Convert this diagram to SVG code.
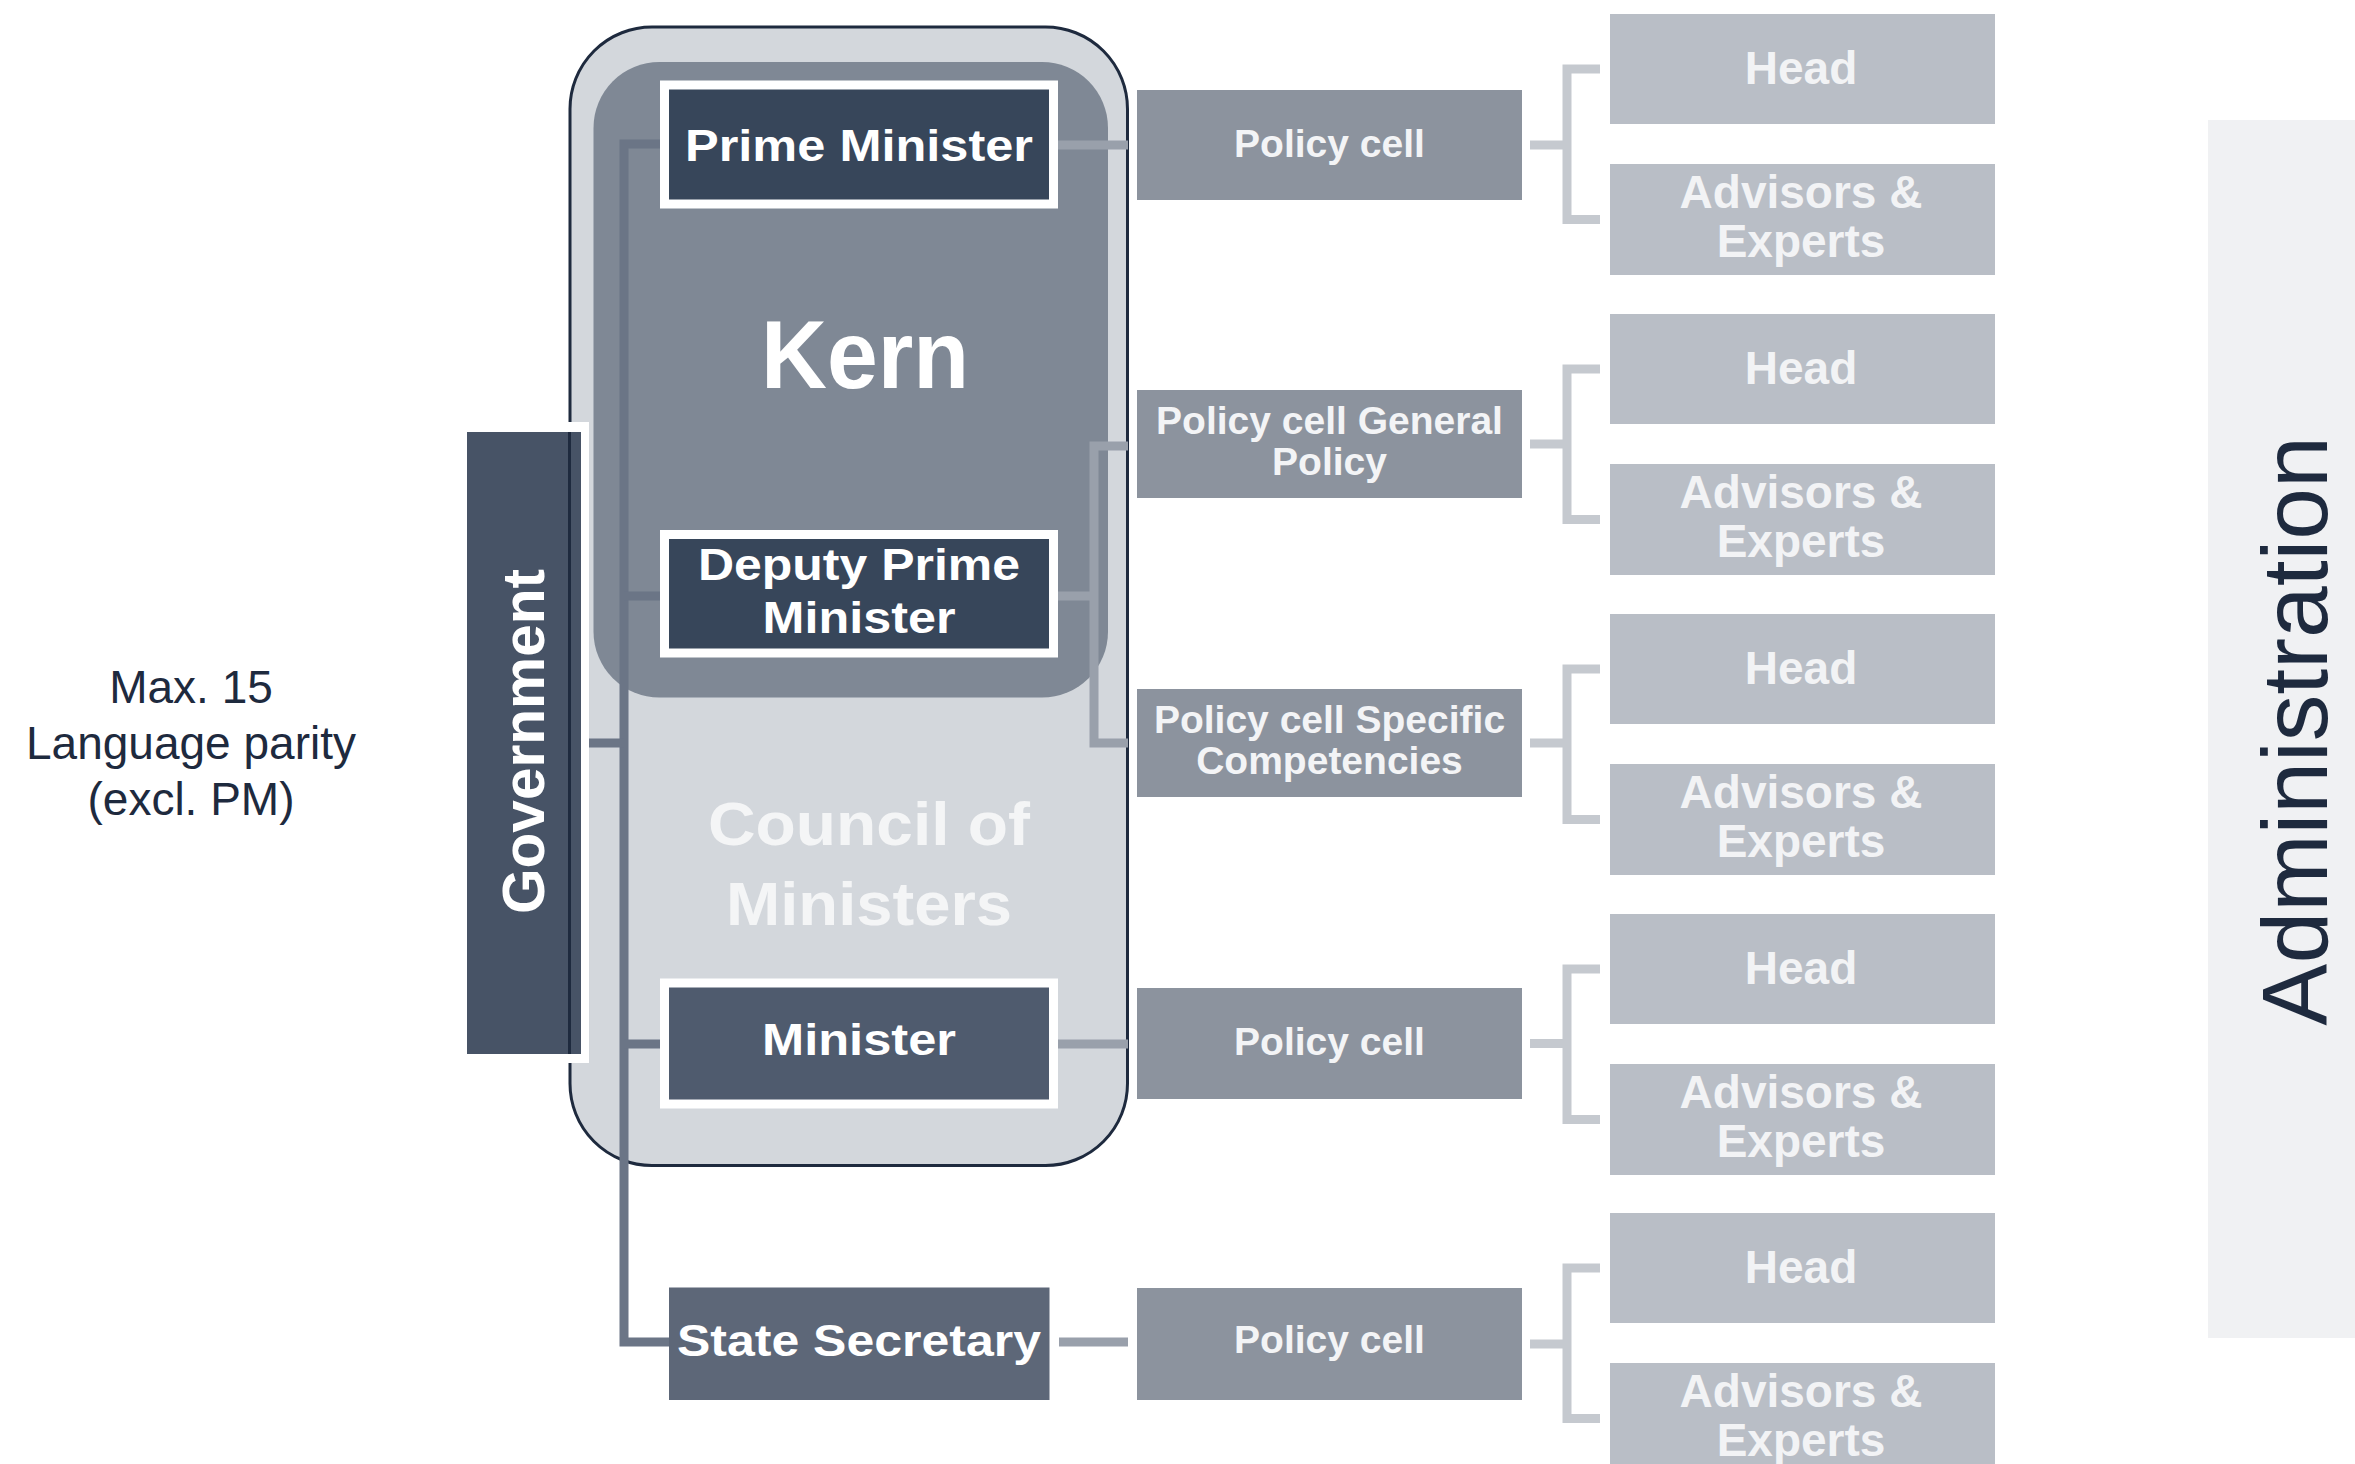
<svg xmlns="http://www.w3.org/2000/svg" width="2355" height="1464" viewBox="0 0 2355 1464">
<style>
.b{font-family:"Liberation Sans",Arial,sans-serif;font-weight:bold;text-anchor:middle}
.r{font-family:"Liberation Sans",Arial,sans-serif;text-anchor:middle}
.role{fill:#ffffff;font-size:45px}
.cell{fill:#8c939e}
.celltx{fill:#f3f4f6;font-size:39px}
.sub{fill:#b9bec6}
.subtx{fill:#f2f3f5;font-size:46px}
.bus{fill:none;stroke:#6b7586;stroke-width:9}
.link{fill:none;stroke:#99a0ab;stroke-width:9}
.brk{fill:none;stroke:#c5c9cf;stroke-width:9}
.wb{stroke:#ffffff;stroke-width:9}
</style>
<rect width="2355" height="1464" fill="#ffffff"/>

<g id="administration">
<rect x="2208" y="120" width="147" height="1218" fill="#f0f1f3"/>
<text class="r" transform="translate(2327,731) rotate(-90)" font-size="93" fill="#1e2a3e">Administration</text>
</g>

<g id="note">
<text class="r" x="191" y="703" font-size="46" fill="#1e2a3e">Max. 15</text>
<text class="r" x="191" y="759" font-size="46" fill="#1e2a3e">Language parity</text>
<text class="r" x="191" y="815" font-size="46" fill="#1e2a3e">(excl. PM)</text>
</g>

<g id="council">
<rect x="570" y="27" width="557.5" height="1138.5" rx="82" ry="82" fill="#d3d7dc" stroke="#1e2a3e" stroke-width="3"/>
</g>
<g id="kern">
<rect x="593.5" y="62" width="514.5" height="635.5" rx="66" ry="66" fill="#7f8895"/>
<text class="b" x="865" y="388" font-size="96" fill="#ffffff" textLength="208" lengthAdjust="spacingAndGlyphs">Kern</text>
</g>
<g id="council-label">
<text class="b" x="869" y="845" font-size="62" fill="#f4f5f6" textLength="322" lengthAdjust="spacingAndGlyphs">Council of</text>
<text class="b" x="869" y="925" font-size="62" fill="#f4f5f6" textLength="286" lengthAdjust="spacingAndGlyphs">Ministers</text>
</g>

<g id="government">
<rect x="462" y="422" width="127" height="641" fill="#ffffff"/>
<rect x="467" y="432" width="114" height="622" fill="#475366"/>
<line x1="569.5" y1="432" x2="569.5" y2="1054" stroke="#1e2a3e" stroke-width="3"/>
<text class="b" transform="translate(544,741.5) rotate(-90)" font-size="60" fill="#ffffff" textLength="345" lengthAdjust="spacingAndGlyphs">Government</text>
</g>

<g id="connectors">
<path class="bus" d="M660,144 H624 V1342 H669"/>
<path class="bus" d="M624,596 H660"/>
<path class="bus" d="M624,1044 H660"/>
<path class="bus" d="M589,743 H624"/>
<path class="link" d="M1058,145 H1128"/>
<path class="link" d="M1058,596 H1094"/>
<path class="link" d="M1128,446 H1094 V743 H1128"/>
<path class="link" d="M1058,1044 H1128"/>
<path class="link" d="M1059,1342 H1128"/>
<path class="brk" d="M1530,145 H1567 M1600,69 H1567 V219.5 H1600"/>
<path class="brk" d="M1530,444 H1567 M1600,369 H1567 V519.5 H1600"/>
<path class="brk" d="M1530,743 H1567 M1600,669 H1567 V819.5 H1600"/>
<path class="brk" d="M1530,1043.5 H1567 M1600,969 H1567 V1119.5 H1600"/>
<path class="brk" d="M1530,1344 H1567 M1600,1268 H1567 V1418.5 H1600"/>
</g>

<g id="prime-minister">
<rect class="wb" x="664.5" y="85" width="389" height="119" fill="#37465a"/>
<text class="b role" x="859" y="161" textLength="348" lengthAdjust="spacingAndGlyphs">Prime Minister</text>
</g>
<g id="deputy-prime-minister">
<rect class="wb" x="664.5" y="534.5" width="389" height="118.5" fill="#37465a"/>
<text class="b role" x="859" y="580" textLength="322" lengthAdjust="spacingAndGlyphs">Deputy Prime</text>
<text class="b role" x="859" y="633" textLength="193" lengthAdjust="spacingAndGlyphs">Minister</text>
</g>
<g id="minister">
<rect class="wb" x="664.5" y="983" width="389" height="121" fill="#4f5b6e"/>
<text class="b role" x="859" y="1055" textLength="194" lengthAdjust="spacingAndGlyphs">Minister</text>
</g>
<g id="state-secretary">
<rect x="669" y="1287.5" width="380.5" height="112.5" fill="#5d6778"/>
<text class="b role" x="859" y="1356" font-size="46" textLength="364" lengthAdjust="spacingAndGlyphs">State Secretary</text>
</g>

<g id="policy-cell-pm">
<rect class="cell" x="1137" y="90" width="385" height="110"/>
<text class="b celltx" x="1329.5" y="157">Policy cell</text>
</g>
<g id="policy-cell-general">
<rect class="cell" x="1137" y="390" width="385" height="108"/>
<text class="b celltx" x="1329.5" y="434">Policy cell General</text>
<text class="b celltx" x="1329.5" y="475">Policy</text>
</g>
<g id="policy-cell-specific">
<rect class="cell" x="1137" y="689" width="385" height="108"/>
<text class="b celltx" x="1329.5" y="733">Policy cell Specific</text>
<text class="b celltx" x="1329.5" y="774">Competencies</text>
</g>
<g id="policy-cell-minister">
<rect class="cell" x="1137" y="988" width="385" height="111"/>
<text class="b celltx" x="1329.5" y="1055">Policy cell</text>
</g>
<g id="policy-cell-state-secretary">
<rect class="cell" x="1137" y="1288" width="385" height="112"/>
<text class="b celltx" x="1329.5" y="1353">Policy cell</text>
</g>

<g id="head-1"><rect class="sub" x="1610" y="14" width="385" height="110"/><text class="b subtx" x="1801" y="84">Head</text></g>
<g id="advisors-1"><rect class="sub" x="1610" y="164" width="385" height="111"/><text class="b subtx" x="1801" y="208">Advisors &amp;</text><text class="b subtx" x="1801" y="257">Experts</text></g>
<g id="head-2"><rect class="sub" x="1610" y="314" width="385" height="110"/><text class="b subtx" x="1801" y="384">Head</text></g>
<g id="advisors-2"><rect class="sub" x="1610" y="464" width="385" height="111"/><text class="b subtx" x="1801" y="508">Advisors &amp;</text><text class="b subtx" x="1801" y="557">Experts</text></g>
<g id="head-3"><rect class="sub" x="1610" y="614" width="385" height="110"/><text class="b subtx" x="1801" y="684">Head</text></g>
<g id="advisors-3"><rect class="sub" x="1610" y="764" width="385" height="111"/><text class="b subtx" x="1801" y="808">Advisors &amp;</text><text class="b subtx" x="1801" y="857">Experts</text></g>
<g id="head-4"><rect class="sub" x="1610" y="914" width="385" height="110"/><text class="b subtx" x="1801" y="984">Head</text></g>
<g id="advisors-4"><rect class="sub" x="1610" y="1064" width="385" height="111"/><text class="b subtx" x="1801" y="1108">Advisors &amp;</text><text class="b subtx" x="1801" y="1157">Experts</text></g>
<g id="head-5"><rect class="sub" x="1610" y="1213" width="385" height="110"/><text class="b subtx" x="1801" y="1283">Head</text></g>
<g id="advisors-5"><rect class="sub" x="1610" y="1363" width="385" height="111"/><text class="b subtx" x="1801" y="1407">Advisors &amp;</text><text class="b subtx" x="1801" y="1456">Experts</text></g>
</svg>
